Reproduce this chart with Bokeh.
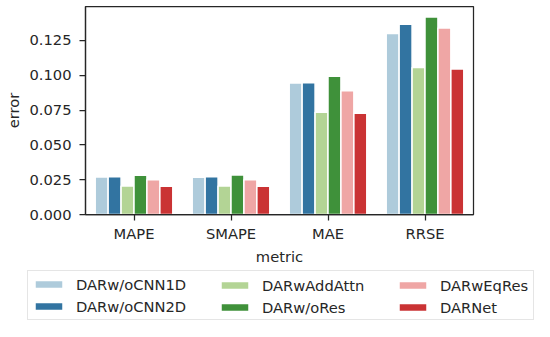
from bokeh.plotting import figure
from bokeh.models import (FactorRange, Range1d, FixedTicker, PrintfTickFormatter,
                          Legend, LegendItem, ColumnDataSource)
from bokeh.layouts import column
from bokeh.transform import dodge
from bokeh.embed import file_html
from bokeh.resources import INLINE

# ---- data ----
metrics = ["MAPE", "SMAPE", "MAE", "RRSE"]
models = ["DARw/oCNN1D", "DARw/oCNN2D", "DARwAddAttn", "DARw/oRes", "DARwEqRes", "DARNet"]
cnn1d = [0.0269, 0.0267, 0.0943, 0.1300]
cnn2d = [0.0271, 0.0271, 0.0946, 0.1365]
addattn = [0.0205, 0.0205, 0.0734, 0.1056]
nores = [0.0281, 0.0283, 0.0993, 0.1417]
eqres = [0.0250, 0.0250, 0.0889, 0.1339]
darnet = [0.0203, 0.0203, 0.0726, 0.1045]
y_ticks = [0.0, 0.025, 0.05, 0.075, 0.1, 0.125]
colors = ["#aecbdb", "#3274a1", "#b3d495", "#3f913a", "#efa6a5", "#ca3334"]

FONT = "DejaVu Sans"
TXT = "#262626"
FS = "14.7px"

src = ColumnDataSource(dict(metric=metrics, cnn1d=cnn1d, cnn2d=cnn2d, addattn=addattn,
                            nores=nores, eqres=eqres, darnet=darnet))
keys = ["cnn1d", "cnn2d", "addattn", "nores", "eqres", "darnet"]

W = 534
H1 = 267
H2 = 54

p = figure(width=W, height=H1,
           x_range=FactorRange(*metrics, range_padding=0),
           y_range=Range1d(0, 0.1493),
           output_backend="svg", toolbar_location=None,
           min_border_left=85, min_border_right=W - 473,
           min_border_top=6, min_border_bottom=H1 - 215)
p.frame_align = False

bw = 0.8 / 6
for i, k in enumerate(keys):
    p.vbar(x=dodge("metric", (i - 2.5) * bw, range=p.x_range), top=k, bottom=0,
           width=bw, source=src, fill_color=colors[i], line_color="white",
           line_width=1.5)

p.xgrid.visible = False
p.ygrid.visible = False
p.outline_line_color = TXT
p.outline_line_width = 1.25
p.outline_line_alpha = 1.0

for ax in (p.xaxis[0], p.yaxis[0]):
    ax.axis_line_color = TXT
    ax.axis_line_width = 1.25
    ax.major_tick_line_color = TXT
    ax.major_tick_line_width = 1.25
    ax.major_tick_out = 6
    ax.major_tick_in = 0
    ax.minor_tick_line_color = None
    ax.major_label_text_font = FONT
    ax.major_label_text_font_size = FS
    ax.major_label_text_color = TXT
    ax.axis_label_text_font = FONT
    ax.axis_label_text_font_size = FS
    ax.axis_label_text_font_style = "normal"
    ax.axis_label_text_color = TXT

p.xaxis.axis_label = "metric"
p.xaxis.major_label_standoff = 4
p.xaxis.axis_label_standoff = 3
p.yaxis.axis_label = "error"
p.yaxis.ticker = FixedTicker(ticks=y_ticks, minor_ticks=[])
p.yaxis.formatter = PrintfTickFormatter(format="%.3f")
p.yaxis.major_label_standoff = 8
p.yaxis.axis_label_standoff = 4

# ---- legend panel (separate figure so it is not clipped by the plot frame) ----
q = figure(width=W, height=H2, x_range=Range1d(0, 1), y_range=Range1d(0, 1),
           output_backend="svg", toolbar_location=None,
           x_axis_location=None, y_axis_location=None,
           min_border=0, min_border_left=0, min_border_right=0,
           min_border_top=0, min_border_bottom=0)
q.frame_align = False
q.xgrid.visible = False
q.ygrid.visible = False
q.outline_line_color = None

# legend swatches (kept outside the visible range; only their style is shown)
proxy_src = ColumnDataSource(dict(x=[-5.0], top=[0.0]))
proxies = []
for i in range(len(models)):
    proxies.append(q.vbar(x="x", top="top", width=0.1, source=proxy_src,
                          fill_color=colors[i], line_color="white", line_width=1.5))


def make_legend(idx, x, boxed):
    items = [LegendItem(label=models[j], renderers=[proxies[j]]) for j in idx]
    lg = Legend(items=items, location=(x, 1), margin=0, padding=3, spacing=2,
                glyph_width=35, glyph_height=10, label_height=20, label_standoff=10,
                label_text_font=FONT, label_text_font_size=FS, label_text_color=TXT)
    if boxed:
        lg.label_width = 454
        lg.border_line_color = "#cccccc"
        lg.border_line_width = 1
        lg.background_fill_color = "white"
        lg.background_fill_alpha = 0.8
    else:
        lg.border_line_alpha = 0
        lg.background_fill_alpha = 0
    q.add_layout(lg)


make_legend([0, 1], 27, True)
make_legend([2, 3], 214, False)
make_legend([4, 5], 392, False)

layout = column(p, q, spacing=0)
open("out.html", "w").write(file_html(layout, INLINE))
